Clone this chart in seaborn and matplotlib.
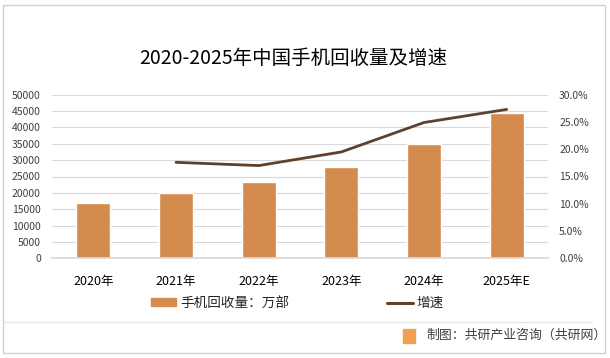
import matplotlib
matplotlib.use("Agg")
import matplotlib.pyplot as plt
import seaborn as sns
import pandas as pd
import numpy as np
from matplotlib.lines import Line2D
from matplotlib.patches import Patch, Rectangle

# chart data
years = ['2020年', '2021年', '2022年', '2023年', '2024年', '2025年E']
recycle = [16900, 20000, 23300, 27900, 35000, 44400]      # 手机回收量（万部）
growth = [np.nan, 0.176, 0.170, 0.195, 0.249, 0.273]      # 增速
left_ticks = list(range(0, 50001, 5000))
right_ticks = [0, 0.05, 0.10, 0.15, 0.20, 0.25, 0.30]

bar_color = '#D38B4E'
line_color = '#5E412C'
grid_color = '#D9D9D9'
text_color = '#404040'

sns.set_theme(style="white")
plt.rcParams['font.family'] = ['Noto Sans CJK SC', 'DejaVu Sans']

df = pd.DataFrame({'year': years, 'recycle': recycle, 'growth': growth})

fig = plt.figure(figsize=(6.10, 3.58), dpi=100)
ax = fig.add_axes([52 / 610, 1 - 258.3 / 358, 496 / 610, 163.6 / 358])

sns.barplot(data=df, x='year', y='recycle', color=bar_color, width=0.41,
            saturation=1, ax=ax, zorder=2)
ax.set_ylim(0, 50000)
ax.set_xlim(-0.5, 5.5)
ax.set_yticks(left_ticks)
ax.set_yticklabels([str(t) for t in left_ticks], fontsize=7.5, color=text_color)
ax.set_xlabel('')
ax.set_ylabel('')
ax.tick_params(axis='x', labelsize=9, colors='#000000', length=0, pad=12)
ax.tick_params(axis='y', length=0, pad=8)
ax.grid(axis='y', color=grid_color, linewidth=0.8, zorder=0)
ax.set_axisbelow(True)
for s in ['top', 'right', 'left']:
    ax.spines[s].set_visible(False)
ax.spines['bottom'].set_color(grid_color)

ax2 = ax.twinx()
sns.lineplot(x=np.arange(len(years)), y=df['growth'], color=line_color,
             linewidth=2.0, ax=ax2)
ax2.set_ylim(0, 0.30)
ax2.set_yticks(right_ticks)
ax2.set_yticklabels(['{:.1f}%'.format(t * 100) for t in right_ticks],
                    fontsize=7.5, color=text_color)
ax2.set_ylabel('')
ax2.tick_params(axis='y', length=0, pad=8)
for s in ax2.spines.values():
    s.set_visible(False)

fig.text(293 / 610, 1 - 58 / 358, '2020-2025年中国手机回收量及增速',
         fontsize=14, ha='center', va='center', color='#000000')

handles = [Patch(color=bar_color), Line2D([0], [0], color=line_color, linewidth=2.2)]
fig.legend(handles, ['手机回收量：万部', '增速'], loc='center',
           bbox_to_anchor=(297 / 610, 1 - 303 / 358), ncol=2, frameon=False,
           fontsize=9.8, handlelength=1.9, handleheight=0.55, handletextpad=0.25,
           columnspacing=7.2)

# outer frame and footer
fig.add_artist(Rectangle((3 / 610, 1 - 352.5 / 358), 602 / 610, 347.5 / 358,
                         transform=fig.transFigure, fill=False,
                         edgecolor='#D0D0D0', linewidth=1))
fig.add_artist(Line2D([3 / 610, 592 / 610], [1 - 322 / 358] * 2,
                      transform=fig.transFigure, color='#E6E6E6', linewidth=1))
fig.add_artist(Rectangle((403 / 610, 1 - 343 / 358), 12 / 610, 14 / 358,
                         transform=fig.transFigure, color='#F0A050'))
fig.text(426 / 610, 1 - 335 / 358, '制图：共研产业咨询（共研网）',
         fontsize=9.3, ha='left', va='center', color='#404040')

fig.savefig('out.png', dpi=100)
